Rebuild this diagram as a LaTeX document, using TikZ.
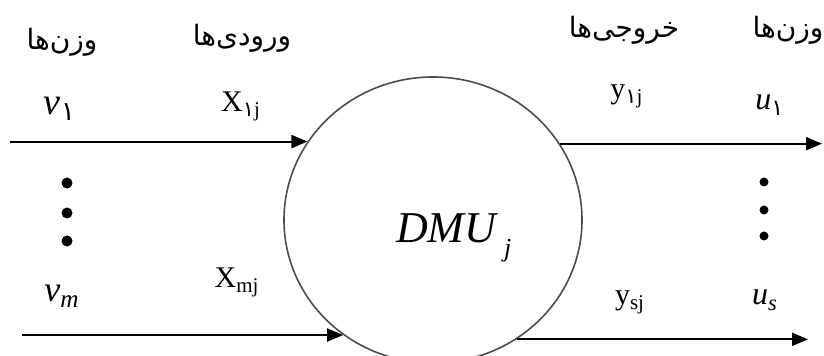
\documentclass[tikz,border=0pt]{standalone}
\usepackage{fontspec}
\setmainfont{Liberation Serif}
\newfontfamily\arabicfont[Script=Arabic]{DejaVu Sans}
\TeXXeTstate=1
\usetikzlibrary{arrows.meta, shapes.geometric}

\newcommand{\fatext}[1]{{\arabicfont\beginR #1\endR}}

\begin{document}
\begin{tikzpicture}[x=0.5pt, y=-0.5pt, >={Triangle[length=8pt, width=6.5pt]}, line width=1pt,
    lbl/.style={inner sep=0pt, anchor=base, font=\fontsize{15}{15}\selectfont},
    head/.style={inner sep=0pt, font=\arabicfont\fontsize{14}{14}\selectfont},
    dot/.style={circle, fill, inner sep=0pt, minimum size=5.5pt}]
    \useasboundingbox (0,0) rectangle (824,356);

    % Unit
    \node[draw=black!70, line width=0.8pt, ellipse, minimum width=149pt, minimum height=143pt, inner sep=0pt] (dmu) at (433,220) {};
    \node[inner sep=0pt, anchor=base west, font=\fontsize{22}{22}\selectfont\itshape] (dmulabel) at (395,243) {DMU\hspace{4pt}\raisebox{-7pt}{\fontsize{13}{13}\selectfont j}};

    % Headings
    \node[head] (wleft) at (62,42) {\fatext{وزن‌ها}};
    \node[head] (inhead) at (242,38) {\fatext{ورودی‌ها}};
    \node[head] (outhead) at (624,30) {\fatext{خروجی‌ها}};
    \node[head] (wright) at (788,30) {\fatext{وزن‌ها}};

    % Inputs
    \node[lbl, font=\fontsize{19}{19}\selectfont] (v1) at (60,115) {\textit{v}\textsubscript{\arabicfont ۱}};
    \node[lbl] (x1) at (241,112) {X\textsubscript{{\arabicfont ۱}j}};
    \node[lbl, font=\fontsize{18}{18}\selectfont] (vm) at (62,302) {\textit{v}\textsubscript{\textit{m}}};
    \node[lbl] (xm) at (237,288) {X\textsubscript{mj}};
    \foreach \y [count=\i] in {183,213,241}
        \node[dot] (ldot\i) at (67,\y) {};

    % Outputs
    \node[lbl] (y1) at (627,99) {y\textsubscript{{\arabicfont ۱}j}};
    \node[lbl, font=\fontsize{16}{16}\selectfont] (u1) at (770,110) {\textit{u}\textsubscript{\arabicfont ۱}};
    \node[lbl] (ys) at (630,305) {y\textsubscript{sj}};
    \node[lbl, font=\fontsize{16}{16}\selectfont] (us) at (765,305) {\textit{u}\textsubscript{\textit{s}}};
    \foreach \y [count=\i] in {182,210,236}
        \node[dot, minimum size=4.5pt] (rdot\i) at (764,\y) {};

    % Arrows
    \coordinate (in1) at (10,0);
    \coordinate (inm) at (22,0);
    \coordinate (out1) at (822,0);
    \coordinate (outs) at (808,0);
    \draw[->] (in1 |- dmu.148.6) -- (dmu.148.6);
    \draw[->] (inm |- dmu.232.4) -- (dmu.232.4);
    \draw[->] (dmu.31.2) -- (out1 |- dmu.31.2);
    \draw[->] (dmu.305) -- (outs |- dmu.305);
\end{tikzpicture}
\end{document}
